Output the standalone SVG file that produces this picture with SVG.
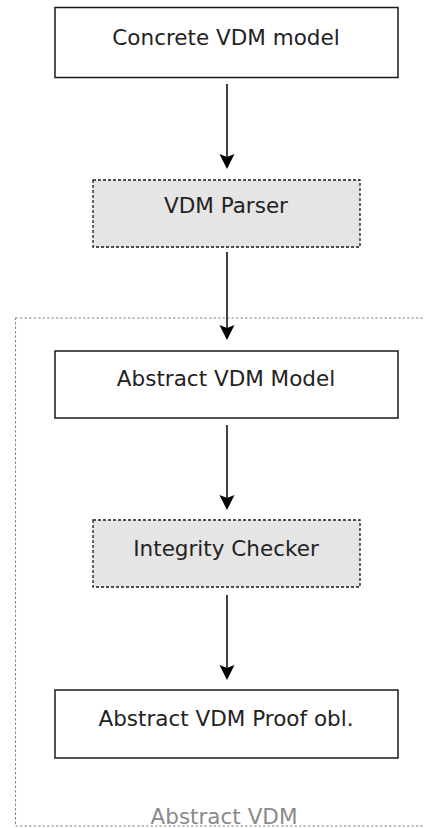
<svg xmlns="http://www.w3.org/2000/svg" width="424" height="828" viewBox="0 0 424 828">
<defs>
<style>
.solid{fill:#fff;stroke:#1a1a1a;stroke-width:1.5}
.proc{fill:#e5e5e5;stroke:#1a1a1a;stroke-width:1.3;stroke-dasharray:3 2}
.lbl{font-family:"DejaVu Sans",sans-serif;font-size:21.5px;fill:#222;text-anchor:middle}
.cont{fill:none;stroke:#8a8a8a;stroke-width:1.1;stroke-dasharray:2.5 2}
.clbl{font-family:"DejaVu Sans",sans-serif;font-size:21.5px;fill:#8a8a8a;text-anchor:middle}
.edge{stroke:#111;stroke-width:1.6;fill:none}
.head{fill:#000}
</style>
</defs>
<rect width="424" height="828" fill="#fff"/>
<g id="container">
<rect class="cont" x="15.5" y="318" width="420" height="508"/>
<text class="clbl" x="224" y="824">Abstract VDM</text>
</g>
<g id="concrete">
<rect class="solid" x="55" y="7.5" width="343" height="70"/>
<text class="lbl" x="226" y="45">Concrete VDM model</text>
</g>
<g id="parser">
<rect class="proc" x="93" y="180" width="267" height="67"/>
<text class="lbl" x="226" y="213">VDM Parser</text>
</g>
<g id="abstract">
<rect class="solid" x="55" y="351" width="343" height="67"/>
<text class="lbl" x="226" y="386">Abstract VDM Model</text>
</g>
<g id="checker">
<rect class="proc" x="93" y="520" width="267" height="67"/>
<text class="lbl" x="226" y="556">Integrity Checker</text>
</g>
<g id="proof">
<rect class="solid" x="55" y="690" width="343" height="68"/>
<text class="lbl" x="226" y="726">Abstract VDM Proof obl.</text>
</g>
<g id="connectors">
<line class="edge" x1="227" y1="84" x2="227" y2="160"/>
<path class="head" d="M219.5,154 L227,157 L234.5,154 L227,169 Z"/>
<line class="edge" x1="227" y1="252" x2="227" y2="332"/>
<path class="head" d="M219.5,325 L227,328 L234.5,325 L227,340 Z"/>
<line class="edge" x1="227" y1="425" x2="227" y2="502"/>
<path class="head" d="M219.5,495 L227,498 L234.5,495 L227,510 Z"/>
<line class="edge" x1="227" y1="595" x2="227" y2="672"/>
<path class="head" d="M219.5,665 L227,668 L234.5,665 L227,680 Z"/>
</g>
</svg>
